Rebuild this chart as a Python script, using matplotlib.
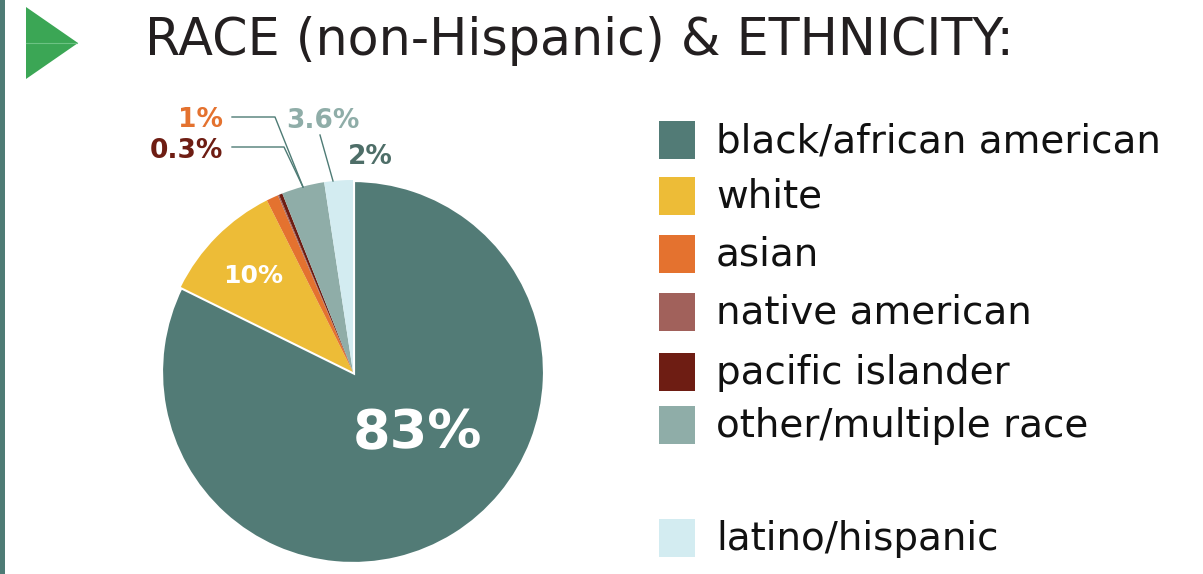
import matplotlib
matplotlib.use('Agg')
import matplotlib.pyplot as plt
from matplotlib.patches import Rectangle, Polygon

# ---- data ----
categories = ["black/african american", "white", "asian", "native american",
              "pacific islander", "other/multiple race", "latino/hispanic"]
values = [82.3, 10.3, 1.0, 0.1, 0.3, 3.6, 2.4]
pct_labels = ["83%", "10%", "1%", "", "0.3%", "3.6%", "2%"]
colors = ["#527b76", "#edbc37", "#e4722f", "#a1615b", "#6e1d13", "#8fada8", "#d3ecf1"]
title = "RACE (non-Hispanic) & ETHNICITY:"

# ---- layout (pixel coords, y from top) ----
W, H = 1203, 574
FONT = "DejaVu Sans"
label_style = {  # x, baseline y, color, size, ha
    "83%": (418, 448, "white", 39, "center"),
    "10%": (253, 283, "white", 18, "center"),
    "1%": (223, 127, "#e4722f", 19, "right"),
    "0.3%": (223, 158, "#6e1d13", 19, "right"),
    "3.6%": (323, 128, "#8fada8", 19, "center"),
    "2%": (370, 164, "#4e6e68", 19, "center"),
}
leaders = [
    [(232, 117), (275, 117), (303, 187)],
    [(232, 147), (284, 147), (303, 187)],
    [(320, 135), (333, 181)],
]
legend_rows = [140, 196, 254, 312, 372, 425, 538]

fig = plt.figure(figsize=(W / 100, H / 100), dpi=100)
ax = fig.add_axes([0, 0, 1, 1])


def Y(py):
    return H - py


wedges, _ = ax.pie(values, colors=colors, startangle=90, counterclock=False,
                   center=(353, Y(372)), radius=192, frame=True,
                   wedgeprops=dict(linewidth=0))
wedges[0].set_edgecolor("white")
wedges[0].set_linewidth(3)
ax.set_xlim(0, W)
ax.set_ylim(0, H)
ax.set_aspect("equal")
ax.axis("off")

# percentage labels
for lab in pct_labels:
    if not lab:
        continue
    x, yb, c, s, ha = label_style[lab]
    ax.text(x, Y(yb), lab, color=c, fontsize=s, fontweight="bold", ha=ha,
            va="baseline", family=FONT)

for pts in leaders:
    ax.plot([p[0] for p in pts], [Y(p[1]) for p in pts], color="#4e7b75", lw=1.0)

# legend
for name, col, yc in zip(categories, colors, legend_rows):
    ax.add_patch(Rectangle((659, Y(yc + 19)), 36, 38, facecolor=col, edgecolor="none"))
    ax.text(716, Y(yc + 12), name, fontsize=28, color="#111111", ha="left",
            va="baseline", family=FONT)

# title and decorations
ax.text(145, Y(55), title, fontsize=36.5, color="#231f20", ha="left", va="baseline",
        family=FONT)
ax.add_patch(Polygon([(26, Y(7)), (78, Y(43)), (26, Y(79))], closed=True,
                     facecolor="#3ba655", edgecolor="none"))
ax.plot([26, 77], [Y(43.3), Y(43.3)], color="#6cc283", lw=0.8)
ax.add_patch(Rectangle((0, 0), 5, H, facecolor="#4e7b75", edgecolor="none"))

fig.savefig("out.png", dpi=100)
